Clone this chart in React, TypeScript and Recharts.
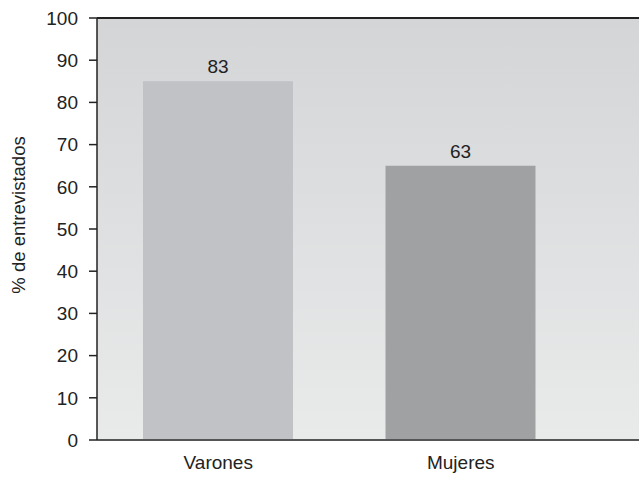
import React from "react";
import { BarChart, Bar, XAxis, YAxis, CartesianGrid, Cell, LabelList, ReferenceLine } from "recharts";

const categories = ["Varones", "Mujeres"];
const barHeights = [85, 65];
const valueLabels = ["83", "63"];
const barColors = ["#c1c2c5", "#a0a1a3"];
const yTicks = [0, 10, 20, 30, 40, 50, 60, 70, 80, 90, 100];
const yTitle = "% de entrevistados";

const data = categories.map((name, i) => ({
  name,
  value: barHeights[i],
  label: valueLabels[i],
}));

const font = "'Liberation Sans', Arial, Helvetica, sans-serif";

const YTitle = (props: any) => {
  const vb = props.viewBox || { x: 0, y: 0, width: 0, height: 0 };
  const cx = 25;
  const cy = vb.y + vb.height / 2 - 14;
  return (
    <text
      x={cx}
      y={cy}
      transform={`rotate(-90, ${cx}, ${cy})`}
      textAnchor="middle"
      fontSize={18.5}
      fill="#222"
      fontFamily={font}
    >
      {yTitle}
    </text>
  );
};

export default function App() {
  return (
    <div style={{ position: "absolute", left: 0, top: 0, width: 640, height: 479, background: "#fff", fontFamily: font }}>
      <BarChart width={640} height={479} data={data} margin={{ top: 18, right: 1, left: 0, bottom: 0 }}>
        <defs>
          <linearGradient id="bgGradient" x1="0" y1="0" x2="0" y2="1">
            <stop offset="0%" stopColor="#d4d5d7" />
            <stop offset="100%" stopColor="#e9eaea" />
          </linearGradient>
        </defs>
        <CartesianGrid horizontal={false} vertical={false} fill="url(#bgGradient)" fillOpacity={1} />
        <XAxis
          dataKey="name"
          height={39}
          padding={{ left: 0, right: 57 }}
          tickLine={false}
          axisLine={{ stroke: "#555", strokeWidth: 2 }}
          tick={{ fontSize: 19, fill: "#222", fontFamily: font }}
          tickMargin={10}
        />
        <YAxis
          width={97}
          domain={[0, 100]}
          ticks={yTicks}
          interval={0}
          tickSize={8}
          tickMargin={11}
          tickLine={{ stroke: "#222", strokeWidth: 1.5 }}
          axisLine={{ stroke: "#222", strokeWidth: 1.5 }}
          tick={{ fontSize: 19, fill: "#222", fontFamily: font }}
          label={<YTitle />}
        />
        <ReferenceLine y={100} stroke="#222" strokeWidth={2} />
        <Bar dataKey="value" barSize={150} isAnimationActive={false}>
          {data.map((d, i) => (
            <Cell key={d.name} fill={barColors[i]} />
          ))}
          <LabelList dataKey="label" position="top" offset={8} style={{ fontSize: 19, fill: "#222", fontFamily: font }} />
        </Bar>
      </BarChart>
    </div>
  );
}
